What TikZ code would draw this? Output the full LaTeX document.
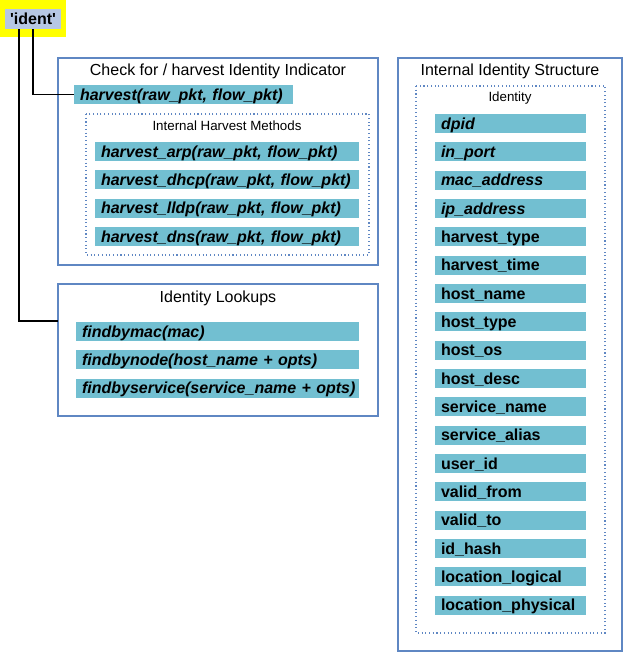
\documentclass[tikz,border=0pt]{standalone}
\usepackage{fontspec}
\setmainfont{Liberation Sans}
\usetikzlibrary{positioning}

\definecolor{fieldblue}{RGB}{114,191,209}
\definecolor{identblue}{RGB}{182,199,228}
\definecolor{frameblue}{RGB}{95,135,195}
\definecolor{hilite}{RGB}{255,255,0}

\tikzset{
  field/.style={fill=fieldblue, minimum height=14.25pt, inner ysep=0pt,
    text height=11.25pt, text depth=3pt,
    inner xsep=1pt, outer sep=0pt, text width=111.25pt, align=left,
    execute at begin node=\hspace*{3.5pt},
    font=\fontsize{12}{14}\selectfont\bfseries},
  call/.style={field, font=\fontsize{12}{14}\selectfont\bfseries\itshape},
  group/.style={draw=frameblue, line width=0.8pt},
  subgroup/.style={draw=frameblue, dotted, line width=0.8pt},
  title/.style={font=\fontsize{12}{14}\selectfont},
  subtitle/.style={font=\fontsize{10}{12}\selectfont},
  link/.style={line width=1.3pt}
}

\begin{document}
\begin{tikzpicture}[x=0.75pt,y=-0.75pt]
  \useasboundingbox (0,0) rectangle (625,653);

  % the 'ident' module, highlighted
  \fill[hilite] (0,0) rectangle (66,37);
  \node[fill=identblue, minimum width=42pt, minimum height=15pt, inner sep=0pt,
    font=\fontsize{12}{14}\selectfont\bfseries] (ident) at (33,19)
    {\textquotesingle ident\textquotesingle};

  % Frames
  \draw[group] (58,58) rectangle (378,265);
  \draw[subgroup] (86,114) rectangle (369,255);
  \draw[group] (58,284) rectangle (378,416);
  \draw[group] (398,58) rectangle (622,651);
  \draw[subgroup] (416,86) rectangle (605,633);
  \coordinate (lookin) at (58,321);

  % Frame titles
  \node[title] (harvtitle) at (218,71) {Check for / harvest Identity Indicator};
  \node[subtitle] (methtitle) at (227,126) {Internal Harvest Methods};
  \node[title] (looktitle) at (218,298) {Identity Lookups};
  \node[title] (structtitle) at (510,71) {Internal Identity Structure};
  \node[subtitle] (idtitle) at (510,98) {Identity};

  % harvest entry point and the internal methods
  \node[call, text width=162.25pt, anchor=north west] (harvest) at (74,85)
    {harvest(raw\_pkt, flow\_pkt)};
  \node[call, text width=196pt, anchor=north west] (arp) at (95,142)
    {harvest\_arp(raw\_pkt, flow\_pkt)};
  \node[call, text width=196pt, below=7pt of arp] (dhcp)
    {harvest\_dhcp(raw\_pkt, flow\_pkt)};
  \node[call, text width=196pt, below=7pt of dhcp] (lldp)
    {harvest\_lldp(raw\_pkt, flow\_pkt)};
  \node[call, text width=196pt, below=7pt of lldp] (dns)
    {harvest\_dns(raw\_pkt, flow\_pkt)};

  % lookups
  \node[call, text width=210.25pt, anchor=north west] (bymac) at (76,322)
    {findbymac(mac)};
  \node[call, text width=210.25pt, below=7pt of bymac] (bynode)
    {findbynode(host\_name + opts)};
  \node[call, text width=210.25pt, below=7pt of bynode] (byservice)
    {findbyservice(service\_name + opts)};

  % identity fields
  \node[call, anchor=north west] (dpid) at (435,114) {dpid};
  \node[call, below=7pt of dpid] (inport) {in\_port};
  \node[call, below=7pt of inport] (mac) {mac\_address};
  \node[call, below=7pt of mac] (ip) {ip\_address};
  \node[field, below=7pt of ip] (htype) {harvest\_type};
  \node[field, below=7pt of htype] (htime) {harvest\_time};
  \node[field, below=7pt of htime] (hname) {host\_name};
  \node[field, below=7pt of hname] (hosttype) {host\_type};
  \node[field, below=7pt of hosttype] (hostos) {host\_os};
  \node[field, below=7pt of hostos] (hostdesc) {host\_desc};
  \node[field, below=7pt of hostdesc] (sname) {service\_name};
  \node[field, below=7pt of sname] (salias) {service\_alias};
  \node[field, below=7pt of salias] (userid) {user\_id};
  \node[field, below=7pt of userid] (vfrom) {valid\_from};
  \node[field, below=7pt of vfrom] (vto) {valid\_to};
  \node[field, below=7pt of vto] (idhash) {id\_hash};
  \node[field, below=7pt of idhash] (loclog) {location\_logical};
  \node[field, below=7pt of loclog] (locphys) {location\_physical};

  % connecting ident to its parts
  \draw[link] (ident.south) |- (harvest.west);
  \draw[link] ([xshift=-10.5pt]ident.south) |- (lookin);

\end{tikzpicture}
\end{document}
